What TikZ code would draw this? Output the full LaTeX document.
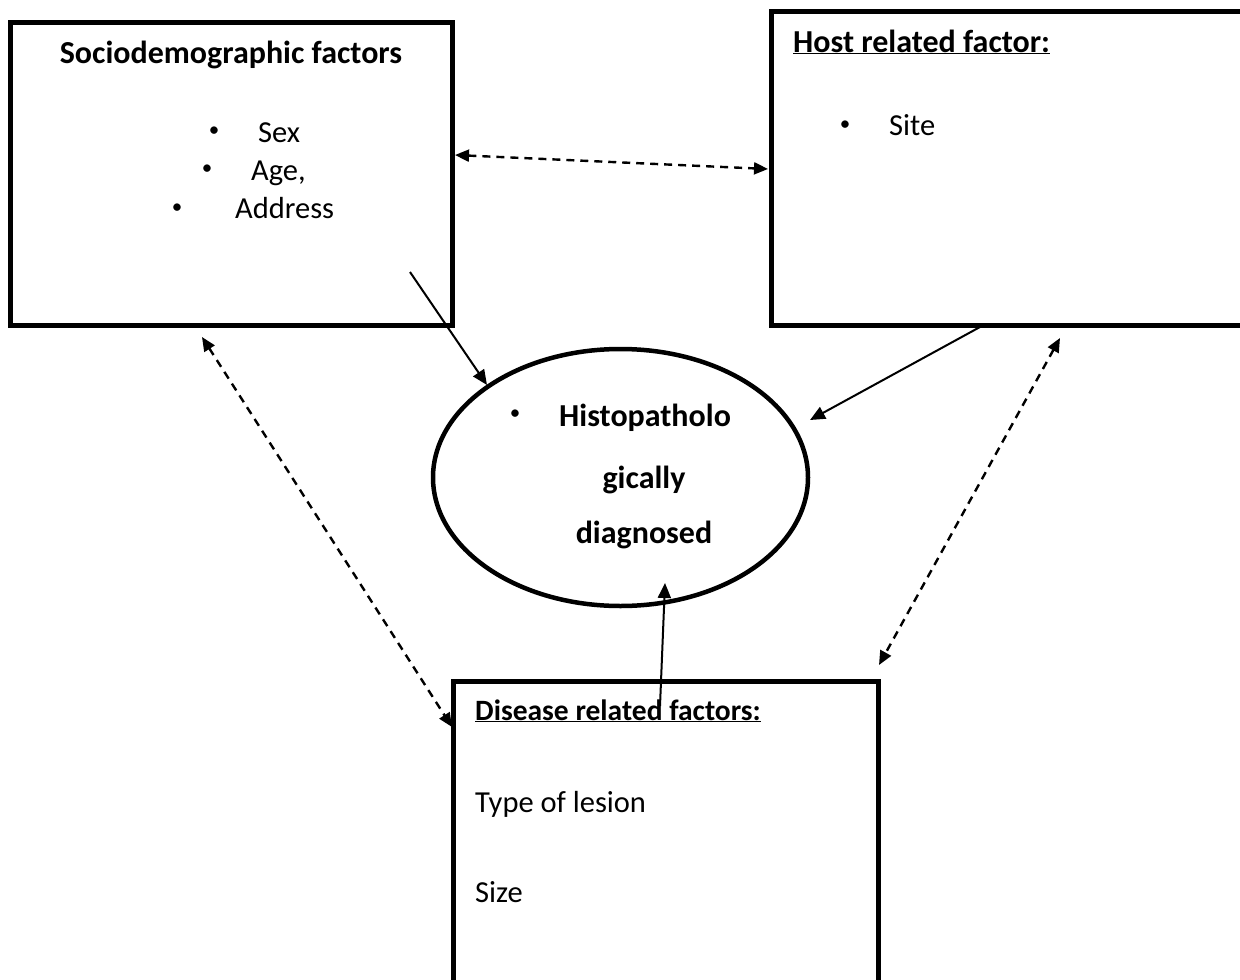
\documentclass[tikz,border=0pt]{standalone}
\usepackage{fontspec}
\setmainfont{Carlito}
\usetikzlibrary{arrows.meta,shapes.geometric}
\begin{document}
\begin{tikzpicture}[x=1pt,y=-1pt,
  box/.style={draw,line width=5pt,rectangle,inner sep=0pt},
  oval/.style={draw,line width=4.5pt,ellipse,inner sep=0pt},
  txt/.style={inner sep=0pt,font=\fontsize{30.5}{36}\selectfont},
  btxt/.style={inner sep=0pt,font=\fontsize{32}{38}\selectfont\bfseries},
  sbtxt/.style={inner sep=0pt,font=\fontsize{29.5}{35}\selectfont\bfseries},
  bul/.style={inner sep=0pt,font=\fontsize{21}{24}\selectfont},
  solidarrow/.style={line width=2pt,-{Triangle[length=15pt,width=13pt]}},
  dasharrow/.style={line width=2.4pt,dash pattern=on 8pt off 6pt,{Triangle[length=14pt,width=12pt]}-{Triangle[length=14pt,width=12pt]}}
]
\useasboundingbox (0,0) rectangle (1240,980);
\clip (0,0) rectangle (1240,980);
\fill[white] (0,0) rectangle (1240,980);

% boxes
\node[box,minimum width=442pt,minimum height=303pt] (socio) at (231,173.5) {};
\node[box,minimum width=489pt,minimum height=314pt] (host) at (1015.5,168) {};
\node[box,minimum width=425pt,minimum height=319pt] (disease) at (665.5,840.5) {};
\node[oval,minimum width=375pt,minimum height=257pt] (histo) at (620.5,477.5) {};

% sociodemographic texts
\node[btxt,anchor=base] (sociot) at (231,63) {Sociodemographic factors};
\node[bul,anchor=center] (b1) at (214,132) {•};
\node[txt,anchor=base west] (sex) at (258,142) {Sex};
\node[bul,anchor=center] (b2) at (207,170) {•};
\node[txt,anchor=base west] (age) at (251,180) {Age,};
\node[bul,anchor=center] (b3) at (177,209) {•};
\node[txt,anchor=base west] (addr) at (235,218) {Address};

% host texts
\node[btxt,anchor=base west] (hostt) at (793,52) {\underline{Host related factor:}};
\node[bul,anchor=center] (b4) at (845,126) {•};
\node[txt,anchor=base west] (site) at (889,135) {Site};

% ellipse texts
\node[bul,anchor=center] (b5) at (515,415) {•};
\node[btxt,anchor=base west] (h1) at (559,426) {Histopatholo};
\node[btxt,anchor=base] (h2) at (644,488) {gically};
\node[btxt,anchor=base] (h3) at (644,543) {diagnosed};

% disease texts
\node[sbtxt,anchor=base west] (diseaset) at (475,720) {\underline{Disease related factors:}};
\node[txt,anchor=base west] (lesion) at (475,812) {Type of lesion};
\node[txt,anchor=base west] (size) at (475,902) {Size};

% connector end points
\coordinate (sociohostA) at (455,155);
\coordinate (sociohostB) at (768,169);
\coordinate (socioout) at (410,272);
\coordinate (histoinL) at (487,385);
\coordinate (hostout) at (980,327);
\coordinate (histoinR) at (810,420);
\coordinate (diseaseout) at (660,706);
\coordinate (histoinB) at (665,583);
\coordinate (sociodisA) at (202,337);
\coordinate (sociodisB) at (452,727);
\coordinate (hostdisA) at (1060,338);
\coordinate (hostdisB) at (879,665);

% connectors
\draw[dasharrow] (sociohostA) -- (sociohostB);
\draw[solidarrow] (socioout) -- (histoinL);
\draw[solidarrow] (hostout) -- (histoinR);
\draw[solidarrow] (diseaseout) -- (histoinB);
\draw[dasharrow] (sociodisA) -- (sociodisB);
\draw[dasharrow] (hostdisA) -- (hostdisB);
\end{tikzpicture}
\end{document}
